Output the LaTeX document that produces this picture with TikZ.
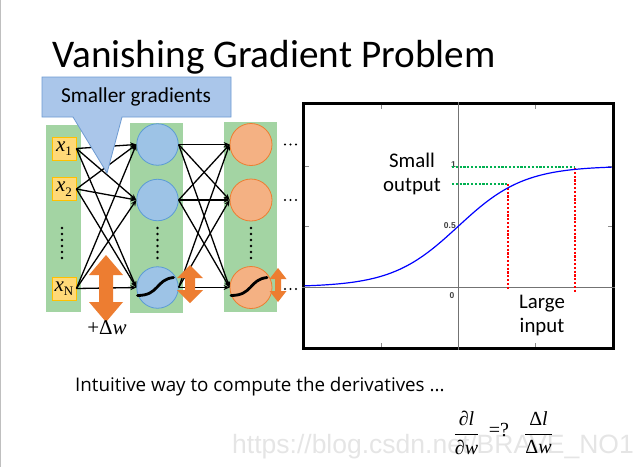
\documentclass[tikz,border=0pt]{standalone}
\usepackage{amsmath}
\usepackage{fontspec}
\setmainfont{Carlito}
\newfontfamily\wmfont{Liberation Sans}
\newfontfamily\bodyfont{Open Sans}
\newfontfamily\serifit{Liberation Serif}
\usetikzlibrary{arrows.meta,calc}
\definecolor{colGreen}{RGB}{163,212,163}
\definecolor{colBoxFill}{RGB}{255,217,120}
\definecolor{colBoxLine}{RGB}{255,192,0}
\definecolor{colBlueFill}{RGB}{157,195,230}
\definecolor{colBlueLine}{RGB}{91,155,213}
\definecolor{colOrFill}{RGB}{244,177,131}
\definecolor{colOrLine}{RGB}{237,125,49}
\definecolor{colArrow}{RGB}{237,125,49}
\definecolor{colCallFill}{RGB}{170,198,234}
\definecolor{colCallLine}{RGB}{110,155,210}
\definecolor{colGreenDot}{RGB}{0,176,80}
\newcommand{\invar}[1]{{\serifit\itshape x}\raisebox{-4.5pt}{\serifit\fontsize{13}{13}\selectfont #1}}
\newcommand{\sfrac}[2]{\ensuremath{\dfrac{\text{\serifit #1}}{\text{\serifit #2}}}}
\begin{document}
\begin{tikzpicture}[x=1pt,y=-1pt,
  greencol/.style={fill=colGreen, draw=none, inner sep=0pt},
  inbox/.style={fill=colBoxFill, draw=colBoxLine, line width=0.8pt, minimum width=24pt, minimum height=23pt, inner sep=0pt, font=\fontsize{21}{21}\selectfont},
  bluec/.style={circle, fill=colBlueFill, draw=colBlueLine, line width=0.8pt, minimum size=41.5pt, inner sep=0pt},
  orc/.style={circle, fill=colOrFill, draw=colOrLine, line width=0.8pt, minimum size=42pt, inner sep=0pt},
  edge/.style={black, line width=1.3pt, -{Stealth[length=6pt,width=5pt]}},
  sig/.style={black, line width=2.8pt, line cap=round},
  darr/.style={fill=colArrow, draw=none},
  dotc/.style={fill=black},
  ticklab/.style={font=\wmfont\bfseries\fontsize{8.5}{9}\selectfont, text=black!75, inner sep=0pt},
  lbl/.style={font=\fontsize{20.8}{22}\selectfont, inner sep=0pt}
]
\useasboundingbox (0,0) rectangle (642,467);
\fill[white] (0,0) rectangle (642,467);
\draw[black!25, line width=1.2pt] (0.6,0) -- (0.6,467);

% title
\node[anchor=base west, inner sep=0pt, font=\fontsize{39.2}{41}\selectfont] (title) at (52,67) {Vanishing Gradient Problem};

% green columns
\node[greencol, minimum width=35pt, minimum height=187pt] (g1) at (63.5,218.5) {};
\node[greencol, minimum width=53pt, minimum height=190pt] (g2) at (156.5,218) {};
\node[greencol, minimum width=53pt, minimum height=190pt] (g3) at (250.5,217) {};

% neurons
\node[bluec] (h1) at (157.5,144.5) {};
\node[bluec] (h2) at (157.5,200) {};
\node[bluec] (h3) at (157.5,287.5) {};
\node[orc] (o1) at (251,144.5) {};
\node[orc] (o2) at (251,200) {};
\node[orc] (o3) at (251,287.5) {};

% inputs
\node[inbox] (x1) at (64,148.5) {\invar{1}};
\node[inbox] (x2) at (64,189) {\invar{2}};
\node[inbox] (xN) at (64,288.5) {\invar{N}};

% edges
\foreach \i in {x1,x2,xN}{
  \foreach \j in {h1,h2,h3}{
    \draw[edge] (\i.east) -- (\j.west);
  }
}
\foreach \i in {h1,h2,h3}{
  \foreach \j in {o1,o2,o3}{
    \draw[edge] (\i.east) -- (\j.west);
  }
}

% sigmoid glyphs in bottom neurons
\draw[sig] ($(h3)+(-20,8)$) .. controls +(22,0) and +(-18,2) .. ($(h3)+(16,-10)$);
\draw[sig] ($(o3)+(-20,8)$) .. controls +(22,0) and +(-18,2) .. ($(o3)+(16,-10)$);

% vertical dots
\foreach \yy in {228,234,240,246,252,258}{
  \fill[dotc] (62,\yy) circle (1.3);
  \fill[dotc] (157.5,\yy) circle (1.3);
  \fill[dotc] (251,\yy) circle (1.3);
}
% horizontal dots
\foreach \yy in {144.5,200,289}{
  \foreach \xx in {285,290.5,296}{
    \fill[dotc] (\xx,\yy) circle (1.2);
  }
}

% orange double arrows
\fill[darr] (106,255) -- (123,275) -- (113,275) -- (113,302) -- (123,302) -- (106,322) -- (89,302) -- (99,302) -- (99,275) -- (89,275) -- cycle;
\fill[darr] (190,265) -- (203,278) -- (195,278) -- (195,290) -- (203,290) -- (190,303) -- (177,290) -- (185,290) -- (185,278) -- (177,278) -- cycle;
\fill[darr] (278,268) -- (286.5,279) -- (281,279) -- (281,291) -- (286.5,291) -- (278,302) -- (269.5,291) -- (275,291) -- (275,279) -- (269.5,279) -- cycle;

\node[inner sep=0pt, font=\serifit\fontsize{21}{22}\selectfont] (dw) at (107,328) {+Δ\textit{w}};

% callout
\draw[fill=colCallFill, draw=colCallLine, line width=0.8pt, line join=miter]
  (42,77) -- (231,77) -- (231,117) -- (122,117) -- (107,173) -- (73,117) -- (42,117) -- cycle;
\node[inner sep=0pt, font=\fontsize{21.3}{22}\selectfont] (callt) at (136,97) {Smaller gradients};

% graph
\node[draw=black, line width=3pt, minimum width=310pt, minimum height=245pt, inner sep=0pt] (frame) at (458,225.5) {};
\draw[black!55, line width=0.9pt] (frame.north -| 458,0) -- (frame.south -| 458,0);
\draw[black!55, line width=0.9pt] (frame.west |- 0,287) -- (frame.east |- 0,287);
\foreach \xx in {381,535}{
  \draw[black!45, line width=0.8pt] (\xx,104.5) -- (\xx,108.5);
  \draw[black!45, line width=0.8pt] (\xx,346.5) -- (\xx,342.5);
}
\foreach \yy in {166,226}{
  \draw[black!45, line width=0.8pt] (304.5,\yy) -- (308.5,\yy);
  \draw[black!45, line width=0.8pt] (611.5,\yy) -- (607.5,\yy);
}
\node[ticklab, anchor=east] (t1) at (456,165) {1};
\node[ticklab, anchor=east] (t05) at (456,226) {0.5};
\node[ticklab] (t0) at (452,296) {0};

\draw[colGreenDot, line width=2.4pt, dash pattern=on 2.2pt off 1.6pt] (452,167) -- (575,167);
\draw[colGreenDot, line width=2.4pt, dash pattern=on 2.2pt off 1.6pt] (452,184) -- (508,184);
\draw[red, line width=2.4pt, dash pattern=on 2.2pt off 1.6pt] (508,184) -- (508,289);
\draw[red, line width=2.4pt, dash pattern=on 2.2pt off 1.6pt] (575,168) -- (575,293);

\draw[blue, line width=1.2pt, domain=304.5:611.5, samples=120, smooth] plot (\x, {287 - 121/(1+exp(-(\x-458)/33))});

\node[lbl, anchor=base] (so1) at (412,167) {Small};
\node[lbl, anchor=base] (so2) at (412,191) {output};
\node[lbl, anchor=base] (li1) at (542,308) {Large};
\node[lbl, anchor=base] (li2) at (542,332) {input};

% bottom text
\node[anchor=base west, inner sep=0pt, font=\bodyfont\fontsize{18.8}{20}\selectfont] (intu) at (75,391) {Intuitive way to compute the derivatives ...};
\node[inner sep=0pt, font=\fontsize{20}{22}\selectfont] (f1) at (466.5,433) {\sfrac{∂\textit{l}}{∂\textit{w}}};
\node[inner sep=0pt, font=\serifit\fontsize{20}{22}\selectfont] (feq) at (499,430) {=?};
\node[inner sep=0pt, font=\fontsize{20}{22}\selectfont] (f2) at (538.5,433) {\sfrac{Δ\textit{l}}{Δ\textit{w}}};

% watermark
\node[anchor=base west, inner sep=0pt, font=\wmfont\fontsize{26.5}{28}\selectfont, text=black, text opacity=0.1] (wm) at (232,453) {https://blog.csdn.net/BRAVE\_NO1};
\end{tikzpicture}
\end{document}
